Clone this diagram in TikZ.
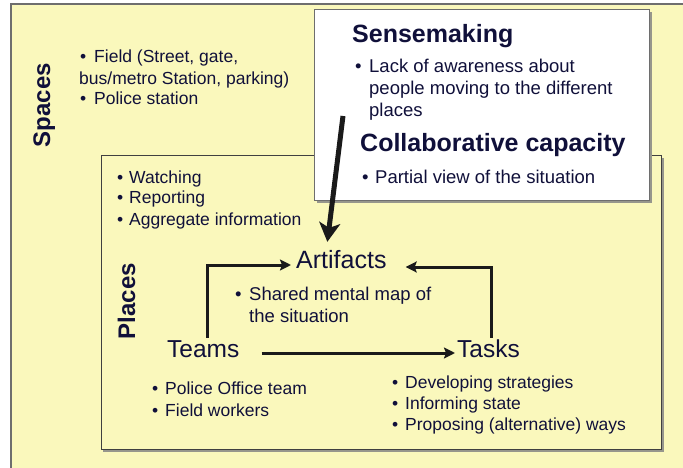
\documentclass[tikz,border=0pt]{standalone}
\usepackage{fontspec}
\setmainfont{Liberation Sans}
\usetikzlibrary{arrows.meta}
\definecolor{bgyel}{RGB}{250,248,188}
\definecolor{ink}{RGB}{16,16,58}
\definecolor{arrowc}{RGB}{26,26,26}
\definecolor{framec}{RGB}{110,110,110}
\definecolor{shadowc}{RGB}{150,150,140}
\tikzset{
  txt/.style={anchor=base west, inner sep=0pt, text=ink, font=\fontsize{17.5}{21}\selectfont},
  txtb/.style={anchor=base west, inner sep=0pt, text=ink, font=\fontsize{18.5}{22}\selectfont},
  head/.style={anchor=base west, inner sep=0pt, text=ink, font=\fontsize{25}{30}\selectfont\bfseries},
  bigword/.style={anchor=base west, inner sep=0pt, text=ink, text depth=0pt, font=\fontsize{24.5}{29}\selectfont},
  sidelabel/.style={anchor=base, inner sep=0pt, rotate=90, text=ink, font=\fontsize{24}{29}\selectfont\bfseries},
  flowarrow/.style={draw=arrowc, line width=3pt, -{Stealth[length=11pt,width=11pt,inset=2pt]}},
  bigarrow/.style={draw=arrowc, line width=5pt, -{Stealth[length=19pt,width=21pt,inset=5pt]}}
}
\begin{document}
\begin{tikzpicture}[x=1pt,y=-1pt]
\useasboundingbox (0,0) rectangle (683,468);
\fill[white] (0,0) rectangle (683,468);
% Spaces frame
\fill[bgyel] (11,4) rectangle (690,475);
\draw[framec, line width=1.3pt] (690,4) -- (11,4) -- (11,475);
% Places frame
\fill[shadowc] (103,158) rectangle (663.5,451.5);
\draw[fill=bgyel, draw=black!75, line width=1pt] (101,156) rectangle (661,449);
% Sensemaking box
\fill[shadowc] (316.5,12.5) rectangle (651.5,202.5);
\draw[fill=white, draw=framec, line width=1pt] (314,10) rectangle (649,200);

% Side labels
\node[sidelabel] (spaces) at (50,105) {Spaces};
\node[sidelabel] (places) at (135,301) {Places};

% Spaces list
\node[txt] (sb1) at (80,63) {•};
\node[txt] (s1) at (94,63) {Field (Street, gate,};
\node[txt] (s1b) at (79,84.5) {bus/metro Station, parking)};
\node[txt] (sb2) at (80,105) {•};
\node[txt] (s2) at (94,105) {Police station};

% Sensemaking box text
\node[head] (sense) at (352,43) {Sensemaking};
\node[txtb] (wb1) at (355,73) {•};
\node[txtb] (w1) at (369,73) {Lack of awareness about};
\node[txtb] (w1b) at (369,95) {people moving to the different};
\node[txtb] (w1c) at (369,117) {places};
\node[head] (collab) at (360,152) {Collaborative capacity};
\node[txtb] (wb2) at (362,183) {•};
\node[txtb] (w2) at (375,183) {Partial view of the situation};

% Places list
\node[txt] (pb1) at (117,183) {•};
\node[txt] (p1) at (129,183) {Watching};
\node[txt] (pb2) at (117,204) {•};
\node[txt] (p2) at (129,204) {Reporting};
\node[txt] (pb3) at (117,225) {•};
\node[txt] (p3) at (129,225) {Aggregate information};

% Triangle of concepts
\node[bigword, text height=18pt, font=\fontsize{25}{30}\selectfont] (artifacts) at (296,268) {Artifacts};
\node[bigword, text height=17pt] (teams) at (167,357) {Teams};
\node[bigword, text height=17pt] (tasks) at (457,357) {Tasks};

\node[txtb] (ab1) at (235,300) {•};
\node[txtb] (a1) at (249,300) {Shared mental map of};
\node[txtb] (a1b) at (249,322) {the situation};

% Teams list
\node[txt] (tb1) at (152,394) {•};
\node[txt] (t1) at (165,394) {Police Office team};
\node[txt] (tb2) at (152,416) {•};
\node[txt] (t2) at (165,416) {Field workers};

% Tasks list
\node[txt] (kb1) at (392,388) {•};
\node[txt] (k1) at (405,388) {Developing strategies};
\node[txt] (kb2) at (392,409) {•};
\node[txt] (k2) at (405,409) {Informing state};
\node[txt] (kb3) at (392,430) {•};
\node[txt] (k3) at (405,430) {Proposing (alternative) ways};

% Arrows
\draw[flowarrow] ([xshift=4.5pt,yshift=2pt]teams.north) |- ([xshift=-5pt,yshift=-6pt]artifacts.west);
\draw[flowarrow] ([xshift=3pt,yshift=2pt]tasks.north) |- ([xshift=19pt,yshift=-8pt]artifacts.east);
\draw[flowarrow] ([xshift=22pt,yshift=-4.5pt]teams.east) -- ([xshift=-2pt,yshift=-4.5pt]tasks.west);
\coordinate (bigstart) at (343,116);
\draw[bigarrow] (bigstart) -- ([xshift=-14pt,yshift=8pt]artifacts.north);
\end{tikzpicture}
\end{document}
